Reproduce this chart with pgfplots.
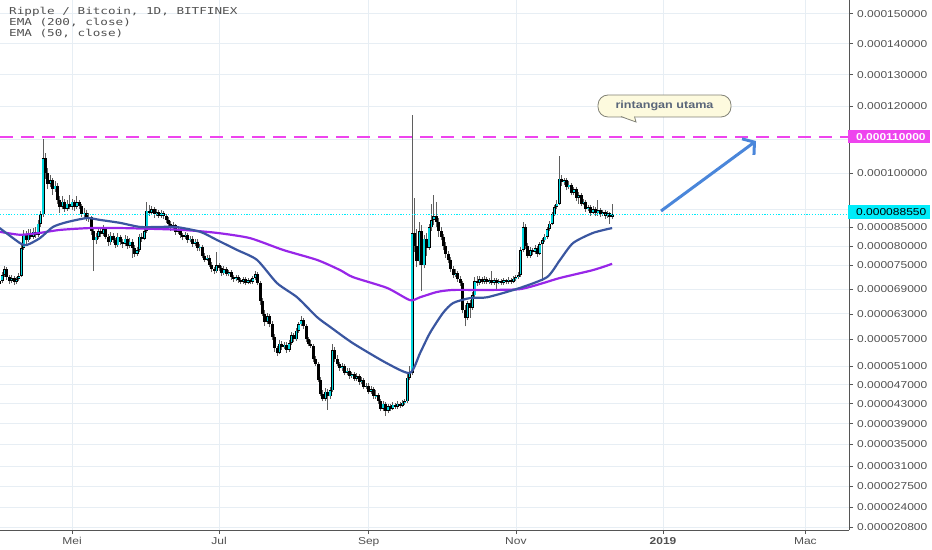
\documentclass[border=0pt]{standalone}
\usepackage{fontspec}
\usepackage{pgfplots}
\usepackage{pgfplotstable}
\pgfplotsset{compat=1.18}
\usetikzlibrary{arrows.meta}
\setmainfont{Liberation Sans}
\newfontfamily\tickfont[FakeStretch=1.2]{Liberation Sans}
\newfontfamily\legfont[FakeStretch=1.33]{DejaVu Sans Mono}

\definecolor{gridc}{RGB}{231,238,244}
\definecolor{axisc}{RGB}{85,85,85}
\definecolor{labelc}{RGB}{80,80,80}
\definecolor{upc}{RGB}{0,214,222}
\definecolor{wickc}{RGB}{95,95,95}
\definecolor{emaA}{RGB}{152,38,232}
\definecolor{emaB}{RGB}{58,86,160}
\definecolor{magline}{RGB}{238,68,238}
\definecolor{lastc}{RGB}{0,236,250}
\definecolor{arrowc}{RGB}{74,134,218}
\definecolor{notec}{RGB}{253,250,222}
\definecolor{notebd}{RGB}{130,130,118}
\definecolor{notetext}{RGB}{90,102,122}

% daily candles, x = days from 1 May 2018, prices in 1e-6 BTC
\pgfplotstableread{
d o h l c
-30 70.2 71.6 69.6 71.0
-29 71.0 73.2 70.5 72.5
-28 72.5 74.8 72.0 74.0
-27 74.0 74.5 71.4 72.0
-26 72.0 72.6 70.3 71.0
-25 71.0 72.5 70.6 71.8
-24 71.8 72.2 70.1 70.8
-23 70.8 72.0 70.2 71.5
-22 71.5 73.0 71.0 72.3
-21 72.3 80.5 72.0 79.5
-20 79.5 84.2 79.0 83.0
-19 83.0 84.0 80.6 81.5
-18 81.5 84.5 81.0 83.5
-17 83.5 84.6 81.8 82.5
-16 82.5 84.8 82.0 83.8
-15 83.8 85.0 82.2 83.0
-14 83.0 87.0 82.5 86.0
-13 86.0 89.5 85.2 88.5
-12 88.5 110.0 87.8 104.5
-11 104.5 106.0 98.5 100.0
-10 100.0 101.5 95.5 97.0
-9 97.0 99.5 96.0 98.0
-8 98.0 98.8 94.0 95.5
-7 95.5 97.8 94.8 96.5
-6 96.5 97.2 91.5 92.5
-5 92.5 93.5 89.0 90.5
-4 90.5 93.5 90.0 92.0
-3 92.0 92.8 89.2 90.0
-2 90.0 92.5 89.5 91.5
-1 91.5 94.0 90.0 90.5
0 90.5 92.8 89.8 92.0
1 92.0 92.6 89.5 90.5
2 90.5 93.5 90.0 91.8
3 91.8 92.4 90.0 90.8
4 90.8 91.5 87.8 88.5
5 88.5 90.2 87.5 89.0
6 89.0 89.6 86.8 87.5
7 87.5 88.8 86.5 87.8
8 87.8 88.2 83.0 84.0
9 84.0 85.0 73.5 81.5
10 81.5 83.5 80.5 82.5
11 82.5 85.0 81.8 84.0
12 84.0 85.2 82.4 83.2
13 83.2 85.5 82.6 84.5
14 84.5 85.0 81.8 82.5
15 82.5 83.2 80.0 81.0
16 81.0 83.8 80.4 82.8
17 82.8 83.5 80.8 81.5
18 81.5 82.2 79.5 80.2
19 80.2 83.5 79.8 82.5
20 82.5 83.0 80.2 81.0
21 81.0 81.8 79.6 80.5
22 80.5 83.0 80.0 82.0
23 82.0 82.6 79.2 80.0
24 80.0 82.2 79.5 81.2
25 81.2 81.8 77.0 79.5
26 79.5 80.2 77.2 78.0
27 78.0 79.8 77.4 79.0
28 79.0 83.2 78.5 82.5
29 82.5 83.5 81.2 82.0
30 82.0 84.8 81.5 84.0
31 84.0 92.0 83.5 89.5
32 89.5 91.0 88.2 89.0
33 89.0 90.8 88.4 90.0
34 90.0 90.6 87.6 88.5
35 88.5 90.0 88.0 89.2
36 89.2 89.8 87.5 88.2
37 88.2 89.8 87.6 89.0
38 89.0 89.5 87.2 88.0
39 88.0 88.6 86.2 87.0
40 87.0 87.8 85.2 86.0
41 86.0 86.8 84.0 84.8
42 84.8 86.4 84.2 85.5
43 85.5 86.0 83.0 83.8
44 83.8 85.2 83.2 84.5
45 84.5 85.0 82.2 83.0
46 83.0 83.6 81.5 82.5
47 82.5 83.8 82.0 83.0
48 83.0 83.6 80.8 81.5
49 81.5 82.8 81.0 82.0
50 82.0 82.6 79.8 80.5
51 80.5 82.0 80.0 81.2
52 81.2 81.8 78.8 79.5
53 79.5 80.6 78.6 79.8
54 79.8 80.4 76.8 77.5
55 77.5 78.2 75.8 76.5
56 76.5 77.8 76.0 77.0
57 77.0 77.6 74.6 75.2
58 75.2 75.8 73.2 74.0
59 74.0 74.6 72.8 73.5
60 73.5 78.5 73.0 75.0
61 75.0 75.6 73.6 74.2
62 74.2 74.8 72.4 73.0
63 73.0 74.8 72.6 74.0
64 74.0 74.5 72.2 72.8
65 72.8 73.8 72.2 73.2
66 73.2 73.8 71.4 72.0
67 72.0 72.6 70.9 71.5
68 71.5 72.6 71.0 72.0
69 72.0 72.5 70.6 71.2
70 71.2 71.8 70.2 70.8
71 70.8 72.0 70.4 71.5
72 71.5 72.0 70.0 70.6
73 70.6 71.8 70.2 71.2
74 71.2 71.6 70.2 70.8
75 70.8 72.4 70.4 71.8
76 71.8 73.5 71.4 72.8
77 72.8 73.2 70.0 70.5
78 70.5 71.0 65.2 66.0
79 66.0 66.8 62.5 63.0
80 63.0 63.8 60.2 61.0
81 61.0 63.2 60.6 62.5
82 62.5 63.0 59.8 60.5
83 60.5 61.2 56.8 57.5
84 57.5 58.2 54.2 55.0
85 55.0 55.6 53.2 54.0
86 54.0 56.8 53.6 56.0
87 56.0 56.6 54.6 55.2
88 55.2 56.4 54.8 55.8
89 55.8 56.3 54.0 54.6
90 54.6 56.8 54.2 56.2
91 56.2 58.6 55.8 58.0
92 58.0 58.5 56.4 57.0
93 57.0 59.6 56.6 59.0
94 59.0 61.0 58.5 60.5
95 60.5 62.5 60.0 61.5
96 61.5 62.0 59.4 60.0
97 60.0 60.5 56.5 57.0
98 57.0 57.6 55.4 56.0
99 56.0 56.8 55.0 55.5
100 55.5 56.0 52.0 52.5
101 52.5 53.2 51.0 51.5
102 51.5 52.0 47.5 48.0
103 48.0 48.6 44.5 45.0
104 45.0 45.8 43.5 44.0
105 44.0 46.2 43.6 45.5
106 45.5 46.0 41.8 44.5
107 44.5 46.4 44.0 45.8
108 45.8 56.0 45.4 54.5
109 54.5 55.2 52.0 52.5
110 52.5 53.4 51.0 51.5
111 51.5 52.0 50.0 50.5
112 50.5 51.6 50.0 51.0
113 51.0 51.5 49.0 49.5
114 49.5 50.6 49.0 50.0
115 50.0 50.5 48.3 48.8
116 48.8 49.8 48.4 49.2
117 49.2 49.7 47.8 48.2
118 48.2 49.4 47.8 48.8
119 48.8 49.3 47.0 47.5
120 47.5 48.6 47.1 48.0
121 48.0 48.4 46.0 46.5
122 46.5 47.4 46.0 46.8
123 46.8 47.3 45.0 45.5
124 45.5 46.6 45.1 46.0
125 46.0 46.4 44.0 44.5
126 44.5 45.8 44.0 44.8
127 44.8 45.2 43.0 43.5
128 43.5 44.0 41.5 42.0
129 42.0 43.6 41.6 43.0
130 43.0 43.4 40.5 41.5
131 41.5 43.0 41.1 42.5
132 42.5 42.9 41.5 42.0
133 42.0 43.3 41.7 42.8
134 42.8 43.2 42.0 42.4
135 42.4 43.5 42.0 43.0
136 43.0 43.4 42.2 42.6
137 42.6 43.7 42.3 43.2
138 43.2 44.0 42.8 43.5
139 43.5 49.2 43.2 48.5
140 48.5 51.0 48.0 49.5
141 49.5 117.5 49.0 83.5
142 83.5 93.0 78.5 80.0
143 80.0 84.5 74.5 76.0
144 76.0 86.5 75.0 84.0
145 84.0 85.5 68.5 75.0
146 75.0 83.0 74.2 82.0
147 82.0 83.5 77.5 79.5
148 79.5 86.0 79.0 85.0
149 85.0 91.5 84.0 87.0
150 87.0 94.0 85.5 88.0
151 88.0 92.0 85.0 86.5
152 86.5 87.5 82.5 84.0
153 84.0 85.0 81.5 82.5
154 82.5 83.2 79.0 80.0
155 80.0 81.0 77.0 78.0
156 78.0 78.8 75.5 76.5
157 76.5 77.2 73.2 74.0
158 74.0 74.8 71.8 72.5
159 72.5 74.0 72.0 73.0
160 73.0 73.6 70.8 71.5
161 71.5 72.2 69.8 70.5
162 70.5 71.0 63.2 64.0
163 64.0 65.0 60.0 62.0
164 62.0 66.2 61.5 65.5
165 65.5 66.4 62.0 64.5
166 64.5 68.2 64.0 67.5
167 67.5 72.0 67.0 71.0
168 71.0 72.2 69.8 70.5
169 70.5 72.4 70.0 71.5
170 71.5 72.0 70.2 70.8
171 70.8 72.2 70.4 71.5
172 71.5 72.0 70.2 70.8
173 70.8 71.8 70.4 71.2
174 71.2 73.5 70.0 70.5
175 70.5 71.8 70.0 71.3
176 71.3 71.8 68.5 70.6
177 70.6 71.6 70.2 71.0
178 71.0 71.5 70.0 70.5
179 70.5 71.8 70.1 71.2
180 71.2 71.6 70.2 70.8
181 70.8 72.0 70.4 71.4
182 71.4 71.9 70.4 70.9
183 70.9 72.2 70.5 71.6
184 71.6 72.5 71.0 72.0
185 72.0 73.2 71.6 72.5
186 72.5 79.8 72.0 79.0
187 79.0 86.5 78.5 85.0
188 85.0 85.8 79.2 80.0
189 80.0 80.8 76.8 77.5
190 77.5 79.8 77.0 79.0
191 79.0 79.6 77.8 78.5
192 78.5 80.2 78.0 79.5
193 79.5 80.0 77.2 78.0
194 78.0 81.2 77.6 80.5
195 80.5 82.2 71.0 81.5
196 81.5 83.2 81.0 82.5
197 82.5 85.2 82.0 84.5
198 84.5 86.8 84.0 86.0
199 86.0 89.2 85.5 88.5
200 88.5 91.2 88.0 90.5
201 90.5 92.4 90.0 91.5
202 91.5 105.0 91.0 98.5
203 98.5 99.5 96.5 97.5
204 97.5 98.8 96.8 98.0
205 98.0 98.6 95.2 96.0
206 96.0 97.8 95.5 96.8
207 96.8 97.4 93.8 94.5
208 94.5 96.2 94.0 95.5
209 95.5 96.0 92.2 93.0
210 93.0 94.8 91.5 93.8
211 93.8 94.4 90.8 91.5
212 91.5 92.8 91.0 92.0
213 92.0 92.5 89.2 90.0
214 90.0 91.2 89.5 90.5
215 90.5 91.0 88.2 89.0
216 89.0 90.8 88.5 90.0
217 90.0 90.6 88.0 88.8
218 88.8 92.5 88.2 89.6
219 89.6 90.2 87.8 88.5
220 88.5 89.8 88.0 89.2
221 89.2 89.8 87.2 88.0
222 88.0 89.4 87.5 88.8
223 88.8 89.3 86.0 87.8
224 87.8 91.5 87.2 88.55
}\ohlc

\pgfplotstableread{
d v
-30 83.8
-21.6 83.0
-13.3 83.5
-5 84.3
7.5 84.8
19.9 84.8
32.3 84.6
46 84.3
60.1 83.5
73.8 82.1
87.5 79.0
101.6 76.4
111.1 73.8
116.5 72.0
130.6 69.3
140.1 66.3
144.3 67.0
151.3 68.3
158.0 68.8
172.1 68.8
185.7 69.0
195.2 70.5
202.3 71.8
216.0 73.8
223.9 75.4
}\emalong

\pgfplotstableread{
d v
-30 84.8
-21.6 80.8
-18.7 80.3
-13.3 82.1
-7.9 85.1
-2.1 86.4
6.2 87.5
11.6 87.0
19.9 86.2
28.2 85.1
36.5 85.1
43.1 85.1
53.1 83.8
60.1 81.6
68.4 79.0
76.7 76.4
85.0 70.5
93.3 67.0
101.6 62.2
107.0 59.9
116.5 56.1
130.6 51.6
140.1 49.5
144.3 53.9
148.4 58.5
153.8 63.2
158.0 65.6
165.0 66.8
172.1 67.0
185.7 69.3
196.9 72.0
202.3 76.4
207.7 80.8
216.0 83.5
223.9 84.8
}\emashort

\begin{document}
\begin{tikzpicture}
\path[use as bounding box] (0,0) rectangle (932bp,550bp);
\begin{axis}[
  at={(0,20bp)}, anchor=south west,
  scale only axis, width=849bp, height=530bp,
  xmin=-29.85, xmax=322.1,
  ymin=20.36, ymax=154.7,
  y coord trafo/.code={\pgfmathparse{(#1)^0.6}},
  y coord inv trafo/.code={\pgfmathparse{(#1)^(1/0.6)}},
  axis x line*=bottom, axis y line*=right,
  axis line style={draw=axisc, line width=0.8bp},
  tick align=outside, major tick length=4bp,
  tick style={draw=axisc, line width=0.6bp},
  grid=major, major grid style={draw=gridc, line width=0.7bp},
  xtick={0,61,123,184,245,304},
  xticklabels={Mei,Jul,Sep,Nov,\textbf{2019},Mac},
  ytick={20.8,24,27.5,31,35,39,43,47,51,57,63,69,75,80,85,90,100,110,120,130,140,150},
  yticklabels={0.000020800,0.000024000,0.000027500,0.000031000,0.000035000,
    0.000039000,0.000043000,0.000047000,0.000051000,0.000057000,0.000063000,
    0.000069000,0.000075000,0.000080000,0.000085000,{},0.000100000,
    {},0.000120000,0.000130000,0.000140000,0.000150000},
  ticklabel style={font=\fontsize{10bp}{12bp}\tickfont, text=labelc},
  yticklabel style={inner sep=0pt, xshift=4bp},
  xticklabel style={inner sep=0pt, yshift=-3bp},
]
\pgfplotstablegetrowsof{\ohlc}
\pgfmathtruncatemacro{\lastrow}{\pgfplotsretval-1}
\pgfplotsforeachungrouped \i in {0,...,\lastrow}{%
  \pgfplotstablegetelem{\i}{d}\of\ohlc \let\cd\pgfplotsretval
  \pgfplotstablegetelem{\i}{o}\of\ohlc \let\co\pgfplotsretval
  \pgfplotstablegetelem{\i}{h}\of\ohlc \let\ch\pgfplotsretval
  \pgfplotstablegetelem{\i}{l}\of\ohlc \let\cl\pgfplotsretval
  \pgfplotstablegetelem{\i}{c}\of\ohlc \let\cc\pgfplotsretval
  \ifdim\cc pt<\co pt
    \edef\candle{%
      \noexpand\addplot[draw=wickc, line width=1bp, forget plot] coordinates {(\cd,\cl) (\cd,\ch)};
      \noexpand\addplot[draw=black, line width=3bp, forget plot] coordinates {(\cd,\co) (\cd,\cc)};}%
  \else
    \edef\candle{%
      \noexpand\addplot[draw=wickc, line width=1bp, forget plot] coordinates {(\cd,\cl) (\cd,\ch)};
      \noexpand\addplot[draw=black, line width=3bp, forget plot] coordinates {(\cd,\co) (\cd,\cc)};
      \noexpand\addplot[draw=upc, line width=1.5bp, shorten <=0.7bp, shorten >=0.7bp, forget plot] coordinates {(\cd,\co) (\cd,\cc)};}%
  \fi
  \candle
}

\addplot[draw=emaA, line width=2.2bp, smooth, tension=0.4] table[x=d, y=v] {\emalong};
\addplot[draw=emaB, line width=2.2bp, smooth, tension=0.4] table[x=d, y=v] {\emashort};
\addplot[draw=lastc, line width=1bp, dash pattern=on 1.2bp off 1.6bp] coordinates {(-29.85,88.55) (322.1,88.55)};
\end{axis}

% resistance level 0.000110000 (pixel row 137 of the plot)
\draw[draw=magline, line width=1.6bp, dash pattern=on 13bp off 8bp] (0,413bp) -- (849bp,413bp);

% price-level boxes on the scale
\fill[magline] (848bp,406.5bp) rectangle (930bp,420bp);
\node[anchor=west, inner sep=0pt, text=white, font=\fontsize{10bp}{12bp}\tickfont\bfseries] at (856bp,413.2bp) {0.000110000};
\fill[lastc] (848bp,331bp) rectangle (930bp,345bp);
\node[anchor=west, inner sep=0pt, text=black, font=\fontsize{10bp}{12bp}\tickfont] at (856bp,338bp) {0.000088550};

% legend text
\begin{scope}[every node/.style={anchor=base west, inner sep=0pt, text=labelc, font=\fontsize{9.5bp}{11bp}\legfont}]
\node at (9bp,535bp) {Ripple / Bitcoin, 1D, BITFINEX};
\node at (9bp,524bp) {EMA (200, close)};
\node at (9bp,513bp) {EMA (50, close)};
\end{scope}

% callout
\draw[draw=notebd, line width=0.8bp, fill=notec, rounded corners=10bp] (598bp,433bp) rectangle (731bp,455bp);
\fill[notec] (621bp,434.2bp) -- (636bp,428bp) -- (634.5bp,434.2bp) -- cycle;
\draw[draw=notebd, line width=0.8bp] (621bp,433.4bp) -- (636bp,428bp) -- (634.5bp,433.4bp);
\node[text=notetext, inner sep=0pt, font=\fontsize{10.5bp}{12bp}\tickfont\bfseries] at (664.5bp,444bp) {rintangan utama};

% arrow
\draw[arrowc, line width=3bp, -{Straight Barb[length=8bp,width=20bp]}] (661bp,339bp) -- (756bp,409bp);
\end{tikzpicture}
\end{document}
